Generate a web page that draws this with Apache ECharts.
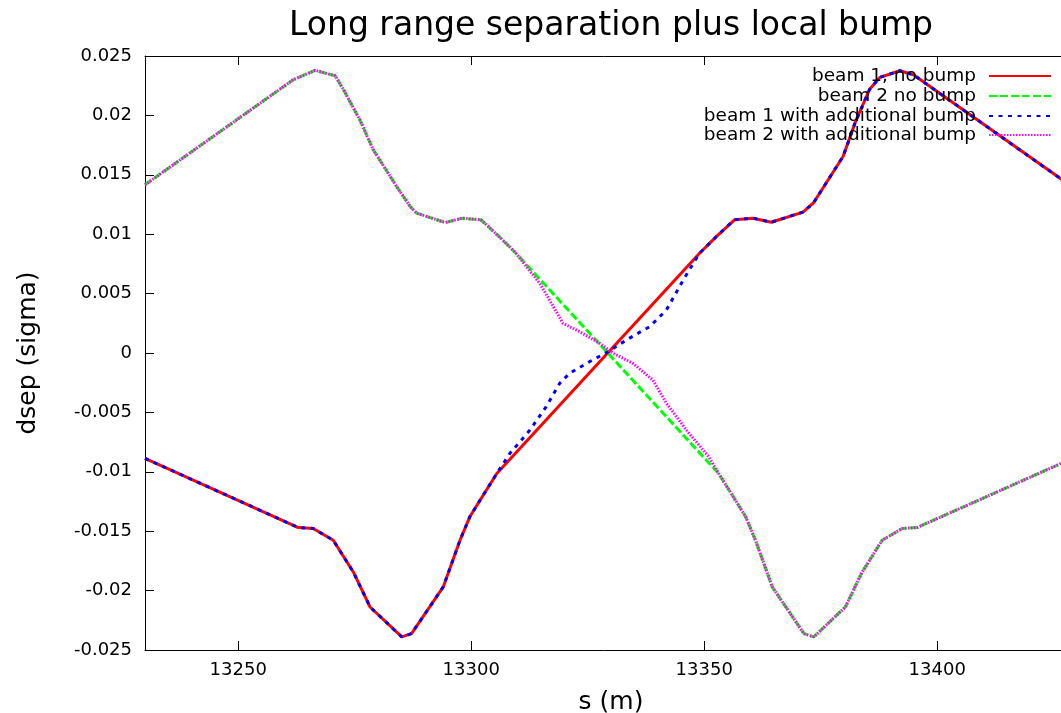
<!DOCTYPE html>
<html>
<head>
<meta charset="utf-8">
<title>Long range separation plus local bump</title>
<script src="https://cdn.jsdelivr.net/npm/echarts@6/dist/echarts.min.js"></script>
<style>
  html, body { margin: 0; padding: 0; background: #fff; }
  #chart { width: 1061px; height: 713px; }
</style>
</head>
<body>
<div id="chart"></div>
<script>
// s (m) positions and separations
var sBeam1 = [13230, 13262.9, 13266.1, 13270.4, 13274.7, 13278.3, 13285.1, 13287.2, 13294.0, 13297.6, 13299.7, 13301.9, 13305.5,
  13349.0, 13352.6, 13356.5, 13360.5, 13364.4, 13371.2, 13373.4, 13379.8, 13382.5, 13385.5, 13387.7, 13392.0, 13394.9, 13430]
var beam1NoBump = [-0.00887, -0.01469, -0.01477, -0.01576, -0.01843, -0.02138, -0.0239, -0.02362, -0.01969, -0.01576, -0.01379, -0.01239, -0.01014,
  0.0084, 0.0098, 0.01121, 0.01135, 0.01101, 0.01186, 0.01261, 0.01654, 0.0195, 0.0222, 0.0232, 0.02376, 0.02342, 0.0137]

var sBeam2 = [13230, 13261.8, 13266.5, 13270.8, 13272.6, 13276.1, 13279.0, 13284.0, 13286.9, 13288.3, 13294.5, 13298.1, 13302.1, 13306.0, 13309.6,
  13353.1, 13356.7, 13358.9, 13361.0, 13364.6, 13371.4, 13373.5, 13380.3, 13383.9, 13388.2, 13392.5, 13395.7, 13430]
var beam2NoBump = [0.01416, 0.0230, 0.02379, 0.02334, 0.02216, 0.01963, 0.0171, 0.01401, 0.01233, 0.01177, 0.01098, 0.01135, 0.01121, 0.0098, 0.0084,
  -0.01014, -0.01239, -0.01379, -0.01576, -0.01969, -0.02362, -0.0239, -0.02138, -0.01843, -0.01576, -0.01477, -0.01469, -0.0087]

var sBeam1Bump = [13230, 13262.9, 13266.1, 13270.4, 13274.7, 13278.3, 13285.1, 13287.2, 13294.0, 13297.6, 13299.7, 13301.9, 13305.5,
  13308.3, 13312.6, 13316.1, 13319.0, 13321.1, 13325.4, 13329.4, 13333.3, 13338.3, 13341.9, 13345.5,
  13349.0, 13352.6, 13356.5, 13360.5, 13364.4, 13371.2, 13373.4, 13379.8, 13382.5, 13385.5, 13387.7, 13392.0, 13394.9, 13430]
var beam1Bump = [-0.00887, -0.01469, -0.01477, -0.01576, -0.01843, -0.02138, -0.0239, -0.02362, -0.01969, -0.01576, -0.01379, -0.01239, -0.01014,
  -0.00845, -0.00649, -0.00452, -0.00255, -0.00171, -0.00073, 0.00011, 0.0011, 0.00222, 0.00362, 0.00615,
  0.0084, 0.0098, 0.01121, 0.01135, 0.01101, 0.01186, 0.01261, 0.01654, 0.0195, 0.0222, 0.0232, 0.02376, 0.02342, 0.0137]

var sBeam2Bump = [13230, 13261.8, 13266.5, 13270.8, 13272.6, 13276.1, 13279.0, 13284.0, 13286.9, 13288.3, 13294.5, 13298.1, 13302.1, 13306.0, 13309.6,
  13312.8, 13314.7, 13316.8, 13319.7, 13323.3, 13327.6, 13330.5, 13334.7, 13339.0, 13341.9, 13346.2, 13351.0,
  13353.1, 13356.7, 13358.9, 13361.0, 13364.6, 13371.4, 13373.5, 13380.3, 13383.9, 13388.2, 13392.5, 13395.7, 13430]
var beam2Bump = [0.01416, 0.0230, 0.02379, 0.02334, 0.02216, 0.01963, 0.0171, 0.01401, 0.01233, 0.01177, 0.01098, 0.01135, 0.01121, 0.0098, 0.0084,
  0.0068, 0.00587, 0.00447, 0.0025, 0.00179, 0.00081, -0.00003, -0.00087, -0.00228, -0.00424, -0.00649, -0.00875,
  -0.01014, -0.01239, -0.01379, -0.01576, -0.01969, -0.02362, -0.0239, -0.02138, -0.01843, -0.01576, -0.01477, -0.01469, -0.0087]

var xTicks = [13250, 13300, 13350, 13400]
var yTicks = [-0.025, -0.02, -0.015, -0.01, -0.005, 0, 0.005, 0.01, 0.015, 0.02, 0.025]

function pairs (xs, ys) {
  return xs.map(function (x, i) { return [x, ys[i]] })
}

var font = 'DejaVu Sans'
var myChart = echarts.init(document.getElementById('chart'))

var names = ['beam 1, no bump', 'beam 2 no bump', 'beam 1 with additional bump', 'beam 2 with additional bump']
var legendTops = [66, 86, 106, 125]

myChart.setOption({
  animation: false,
  backgroundColor: '#fff',
  graphic: [{
    type: 'text',
    x: 611,
    y: 10,
    style: {
      text: 'Long range separation plus local bump',
      fontSize: 33,
      fontFamily: font,
      fill: '#000',
      align: 'center'
    }
  }],
  // one legend per row so the texts line up on the right like gnuplot's key
  legend: names.map(function (n, i) {
    return {
      data: [n],
      right: 9,
      top: legendTops[i],
      align: 'right',
      itemWidth: 62,
      itemHeight: 20,
      selectedMode: false,
      padding: 0,
      itemStyle: { opacity: 0 },
      textStyle: { fontFamily: font, fontSize: 18.5, color: '#000', lineHeight: 20, padding: [0, 8, 0, 0] }
    }
  }),
  grid: {
    left: 145,
    top: 56,
    right: -16,
    bottom: 63,
    outerBoundsMode: 'none'
  },
  xAxis: [{
    type: 'value',
    min: 13230,
    max: 13430,
    name: 's (m)',
    nameLocation: 'middle',
    nameGap: 40,
    nameTextStyle: { fontFamily: font, fontSize: 25, color: '#000' },
    splitLine: { show: false },
    axisLine: { onZero: false, lineStyle: { color: '#000', width: 1 } },
    axisTick: { inside: true, length: 9, customValues: xTicks, lineStyle: { color: '#000' } },
    axisLabel: {
      customValues: xTicks,
      margin: 11,
      fontFamily: font,
      fontSize: 18,
      color: '#000',
      formatter: function (v) { return String(v) }
    }
  }, {
    type: 'value',
    position: 'top',
    min: 13230,
    max: 13430,
    splitLine: { show: false },
    axisLine: { onZero: false, lineStyle: { color: '#000', width: 1 } },
    axisTick: { inside: true, length: 9, customValues: xTicks, lineStyle: { color: '#000' } },
    axisLabel: { show: false }
  }],
  yAxis: {
    type: 'value',
    min: -0.025,
    max: 0.025,
    name: 'dsep (sigma)',
    nameLocation: 'middle',
    nameGap: 104,
    nameTextStyle: { fontFamily: font, fontSize: 25, color: '#000' },
    splitLine: { show: false },
    axisLine: { onZero: false, lineStyle: { color: '#000', width: 1 } },
    axisTick: { inside: true, length: 9, customValues: yTicks, lineStyle: { color: '#000' } },
    axisLabel: {
      customValues: yTicks,
      margin: 13,
      fontFamily: font,
      fontSize: 18,
      color: '#000',
      formatter: function (v) { return String(+v.toFixed(3)) }
    }
  },
  series: [{
    name: names[0],
    type: 'line',
    symbol: 'none',
    data: pairs(sBeam1, beam1NoBump),
    lineStyle: { color: '#ff0000', width: 3 },
    itemStyle: { color: '#ff0000' }
  }, {
    name: names[1],
    type: 'line',
    symbol: 'none',
    data: pairs(sBeam2, beam2NoBump),
    lineStyle: { color: '#00ff00', width: 3, type: [8, 3] },
    itemStyle: { color: '#00ff00' }
  }, {
    name: names[2],
    type: 'line',
    symbol: 'none',
    data: pairs(sBeam1Bump, beam1Bump),
    lineStyle: { color: '#0000ff', width: 3, type: [4, 5.5] },
    itemStyle: { color: '#0000ff' }
  }, {
    name: names[3],
    type: 'line',
    symbol: 'none',
    data: pairs(sBeam2Bump, beam2Bump),
    lineStyle: { color: '#ff00ff', width: 3, type: [1.5, 1.5] },
    itemStyle: { color: '#ff00ff' }
  }]
})
</script>
</body>
</html>
